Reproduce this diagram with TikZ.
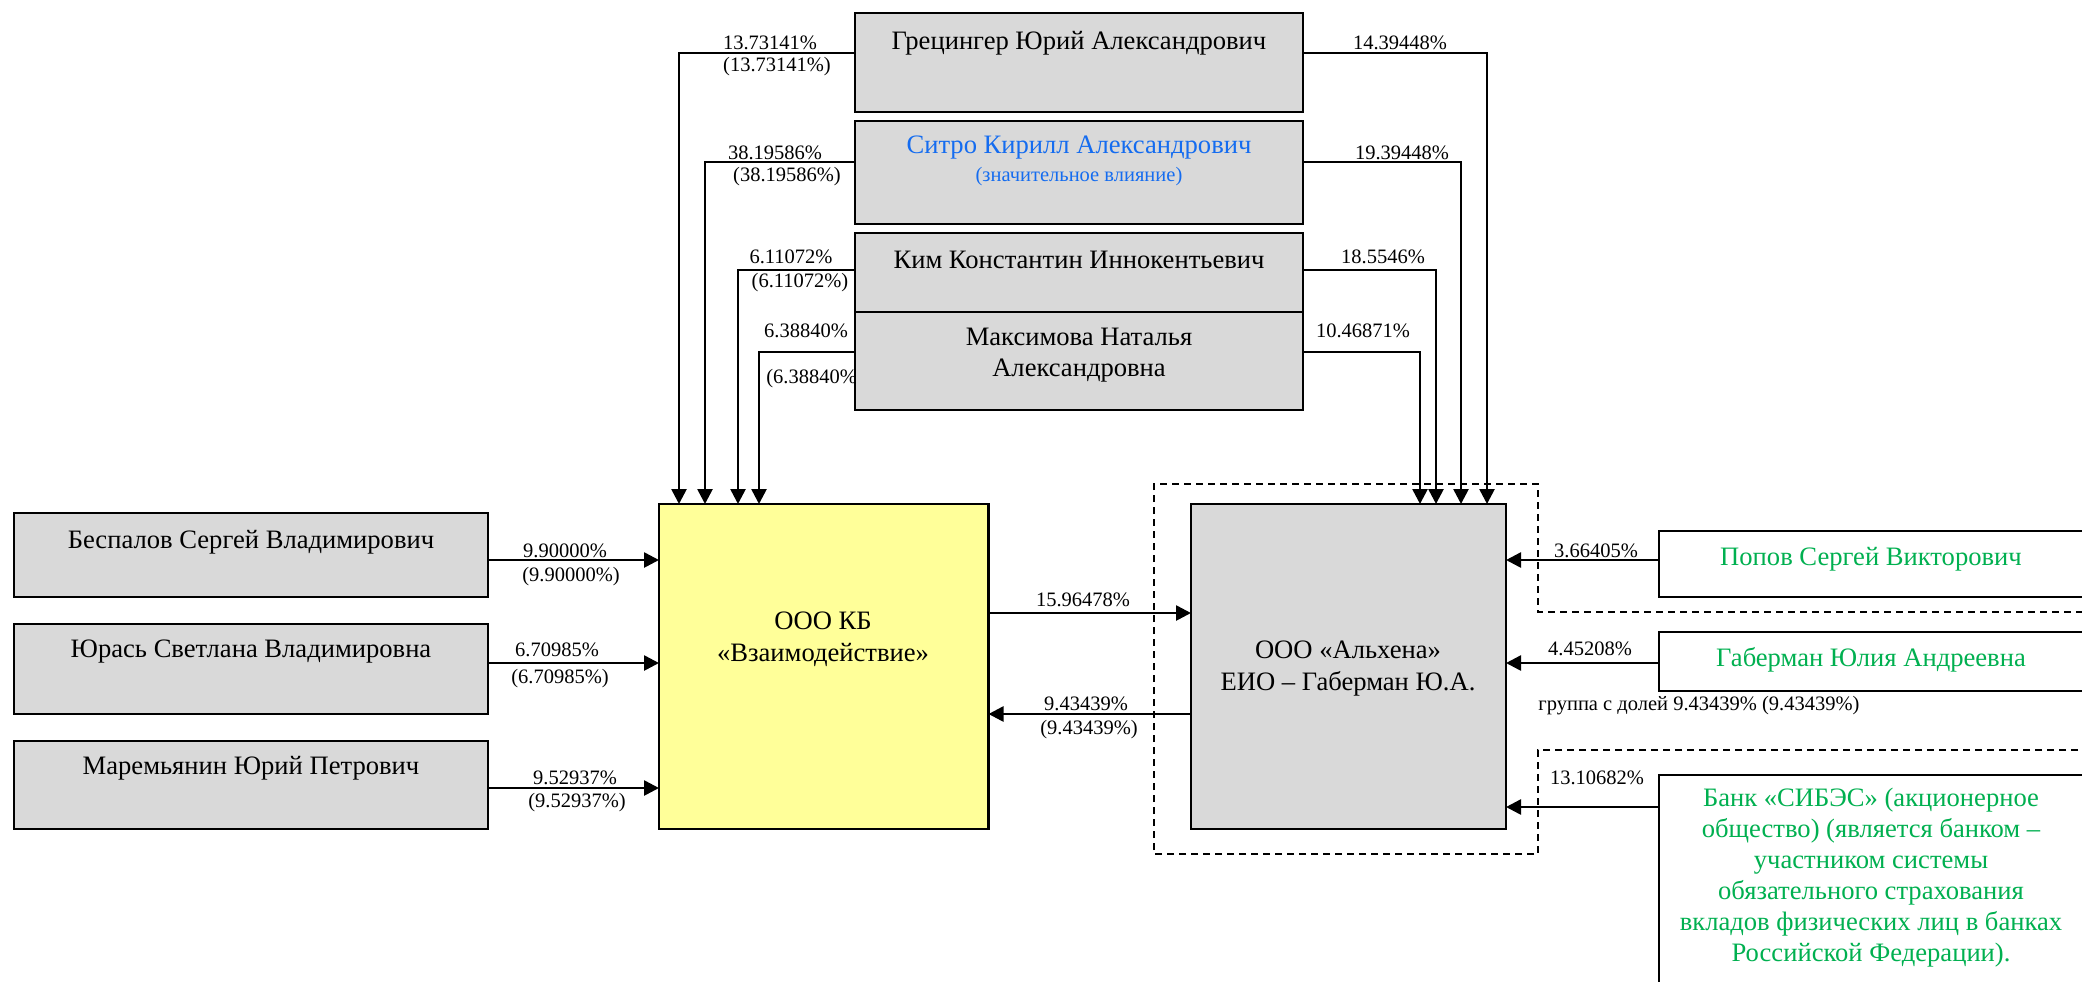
\documentclass[tikz,border=0pt]{standalone}
\usepackage{fontspec}
\setmainfont{Liberation Serif}
\usetikzlibrary{arrows.meta,calc}
\definecolor{boxgrey}{RGB}{217,217,217}
\definecolor{boxyellow}{RGB}{255,255,153}
\definecolor{txtblue}{RGB}{20,108,240}
\definecolor{txtgreen}{RGB}{0,176,80}
\begin{document}
\begin{tikzpicture}[x=0.5pt,y=-0.5pt,
  box/.style={draw=black, line width=1.3pt, fill=boxgrey, inner sep=0pt, outer sep=0pt, anchor=north west},
  wbox/.style={box, fill=white},
  main/.style={font=\fontsize{13.3}{15.5}\selectfont, inner sep=0pt, align=center},
  pct/.style={font=\fontsize{10.25}{12}\selectfont, inner sep=0pt},
  arr/.style={line width=1.3pt, -{Triangle[length=7.5pt,width=7.5pt]}},
  grp/.style={line width=1pt, dash pattern=on 3.5pt off 2.5pt}]
\useasboundingbox (0,0) rectangle (2082,981);
\clip (0,0) rectangle (2082,981);

% label partly hidden under the box
\node[pct] (l6b) at (815,379) {(6.38840\%)};

% boxes
\node[box, minimum width=224pt, minimum height=49.5pt] (grec) at (855,13) {};
\node[box, minimum width=224pt, minimum height=51.5pt] (sitro) at (855,121) {};
\node[box, minimum width=224pt, minimum height=39.5pt] (kim) at (855,233) {};
\node[box, minimum width=224pt, minimum height=49pt] (maks) at (855,312) {};
\node[box, minimum width=237pt, minimum height=42pt] (besp) at (14,513) {};
\node[box, minimum width=237pt, minimum height=45pt] (yuras) at (14,624) {};
\node[box, minimum width=237pt, minimum height=44pt] (marem) at (14,741) {};
\node[box, fill=boxyellow, minimum width=164.75pt, minimum height=162.5pt] (kb) at (659,504) {};
\node[box, minimum width=157.5pt, minimum height=162.5pt] (alh) at (1191,504) {};
\node[wbox, minimum width=215.5pt, minimum height=33pt] (popov) at (1659,531) {};
\node[wbox, minimum width=215.5pt, minimum height=29.5pt] (gaber) at (1659,632) {};
\node[wbox, minimum width=215.5pt, minimum height=115pt] (sibes) at (1659,775) {};

% texts in boxes
\node[main] (grec-t) at (1079,43) {Грецингер Юрий Александрович};
\node[main, text=txtblue] (sitro-t) at (1079,148) {Ситро Кирилл Александрович};
\node[pct, text=txtblue] (sitro-s) at (1079,177) {(значительное влияние)};
\node[main] (kim-t) at (1079,260) {Ким Константин Иннокентьевич};
\node[main] (maks-t) at (1079,355) {Максимова Наталья\\Александровна};
\node[main] (besp-t) at (251,542) {Беспалов Сергей Владимирович};
\node[main] (yuras-t) at (251,652) {Юрась Светлана Владимировна};
\node[main] (marem-t) at (251,768) {Маремьянин Юрий Петрович};
\node[main, font=\fontsize{13.3}{16}\selectfont] (kb-t) at (823,639) {ООО КБ\\«Взаимодействие»};
\node[main, font=\fontsize{13.3}{16}\selectfont] (alh-t) at (1348,669) {ООО «Альхена»\\ЕИО – Габерман Ю.А.};
\node[main, text=txtgreen] (popov-t) at (1871,559) {Попов Сергей Викторович};
\node[main, text=txtgreen] (gaber-t) at (1871,660) {Габерман Юлия Андреевна};
\node[main, text=txtgreen, anchor=north] (sibes-t) at (1871,788) {Банк «СИБЭС» (акционерное\\общество) (является банком –\\участником системы\\обязательного страхования\\вкладов физических лиц в банках\\Российской Федерации).};

% connectors to KB from top
\draw[arr] ($(grec.north west)+(0,40)$) -| ($(kb.north west)+(20,0)$);
\draw[arr] ($(sitro.north west)+(0,41)$) -| ($(kb.north west)+(46,0)$);
\draw[arr] ($(kim.north west)+(0,37)$) -| ($(kb.north west)+(79,0)$);
\draw[arr] ($(maks.north west)+(0,40)$) -| ($(kb.north west)+(100,0)$);
% connectors to Alhena from top
\draw[arr] ($(grec.north east)+(0,40)$) -| ($(alh.north west)+(296,0)$);
\draw[arr] ($(sitro.north east)+(0,41)$) -| ($(alh.north west)+(270,0)$);
\draw[arr] ($(kim.north east)+(0,37)$) -| ($(alh.north west)+(245,0)$);
\draw[arr] ($(maks.north east)+(0,40)$) -| ($(alh.north west)+(229,0)$);
% left
\draw[arr] ($(besp.north east)+(0,47)$) -- ($(kb.north west)+(0,56)$);
\draw[arr] ($(yuras.north east)+(0,39)$) -- ($(kb.north west)+(0,159)$);
\draw[arr] ($(marem.north east)+(0,47)$) -- ($(kb.north west)+(0,284)$);
% middle
\draw[arr] ($(kb.north east)+(0,109)$) -- ($(alh.north west)+(0,109)$);
\draw[arr] ($(alh.north west)+(0,210)$) -- ($(kb.north east)+(0,210)$);
% right
\draw[arr] ($(popov.north west)+(0,29)$) -- ($(alh.north east)+(0,56)$);
\draw[arr] ($(gaber.north west)+(0,31)$) -- ($(alh.north east)+(0,159)$);
\draw[arr] ($(sibes.north west)+(0,32)$) -- ($(alh.north east)+(0,303)$);

% group outline
\draw[grp] (2090,750) -- (1538,750) -- (1538,854) -- (1154,854) -- (1154,484) -- (1538,484) -- (1538,612) -- (2090,612);

% percentage labels
\node[pct] (l1a) at (770,43) {13.73141\%};
\node[pct] (l1b) at (777,67) {(13.73141\%)};
\node[pct] (l2a) at (775,153) {38.19586\%};
\node[pct] (l2b) at (787,177) {(38.19586\%)};
\node[pct] (l3a) at (791,257) {6.11072\%};
\node[pct] (l3b) at (800,283) {(6.11072\%)};
\node[pct] (l4a) at (806,331) {6.38840\%};
\node[pct] (r1) at (1400,43) {14.39448\%};
\node[pct] (r2) at (1402,153) {19.39448\%};
\node[pct] (r3) at (1383,257) {18.5546\%};
\node[pct] (r4) at (1363,331) {10.46871\%};
\node[pct] (b1a) at (565,551) {9.90000\%};
\node[pct] (b1b) at (571,577) {(9.90000\%)};
\node[pct] (b2a) at (557,650) {6.70985\%};
\node[pct] (b2b) at (560,679) {(6.70985\%)};
\node[pct] (b3a) at (575,778) {9.52937\%};
\node[pct] (b3b) at (577,803) {(9.52937\%)};
\node[pct] (m1) at (1083,600) {15.96478\%};
\node[pct] (m2a) at (1086,704) {9.43439\%};
\node[pct] (m2b) at (1089,730) {(9.43439\%)};
\node[pct] (p1) at (1596,551) {3.66405\%};
\node[pct] (p2) at (1590,649) {4.45208\%};
\node[pct] (p3) at (1597,778) {13.10682\%};
\node[pct, anchor=west] (grp-t) at (1538,706) {группа с долей 9.43439\% (9.43439\%)};
\end{tikzpicture}
\end{document}
